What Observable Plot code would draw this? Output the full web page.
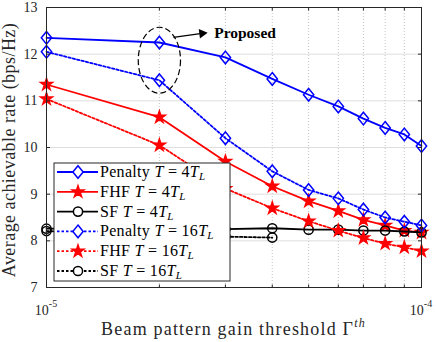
<!DOCTYPE html>
<html><head><meta charset="utf-8">
<script src="https://cdn.jsdelivr.net/npm/d3@7"></script>
<script src="https://cdn.jsdelivr.net/npm/@observablehq/plot@0.6"></script>
<style>body{margin:0;background:#fff;} svg{display:block;}</style>
</head><body><div id="chart"></div>
<script>
const thresholds = [1e-5, 2e-5, 3e-5, 4e-5, 5e-5, 6e-5, 7e-5, 8e-5, 9e-5, 1e-4];
const penalty4  = [12.35, 12.25, 11.93, 11.47, 11.13, 10.88, 10.62, 10.42, 10.28, 10.03];
const fhf4      = [11.35, 10.65, 9.70, 9.17, 8.85, 8.64, 8.45, 8.33, 8.22, 8.18];
const sf4       = [8.26, 8.25, 8.25, 8.27, 8.24, 8.24, 8.22, 8.22, 8.20, 8.18];
const penalty16 = [12.05, 11.44, 10.20, 9.49, 9.09, 8.91, 8.67, 8.50, 8.41, 8.33];
const fhf16     = [11.04, 10.05, 9.12, 8.70, 8.42, 8.22, 8.06, 7.94, 7.86, 7.78];
const sf16      = [8.21, 8.12, 8.09, 8.07];
const yTicks = [7, 8, 9, 10, 11, 12, 13];
const yGrid = [8, 9, 10, 11, 12];
const xMajorTicks = [1e-5, 1e-4];
const xTickLabels = [["10", "-5"], ["10", "-4"]];
const xMinorTicks = [2e-5, 3e-5, 4e-5, 5e-5, 6e-5, 7e-5, 8e-5, 9e-5];
const legendNames = ["Penalty", "FHF", "SF", "Penalty", "FHF", "SF"];
const legendT = ["4", "4", "4", "16", "16", "16"];
const annX = [2e-5], annY = [11.87];
const arrowFrom = {x: 2.18e-5, y: 12.36}, arrowTo = {x: 2.60e-5, y: 12.445};
const annText = {x: 2.80e-5, y: 12.45, text: "Proposed"};
const xLabel = "Beam pattern gain threshold Γ";
const yLabel = "Average achievable rate (bps/Hz)";

const diamond = {draw(ctx, size) { const r = Math.sqrt(size / Math.PI); const w = r * 0.82, h = r;
  ctx.moveTo(0, -h); ctx.lineTo(w, 0); ctx.lineTo(0, h); ctx.lineTo(-w, 0); ctx.closePath(); }};
const ellipse = {draw(ctx, size) { const r = Math.sqrt(size / Math.PI); const rx = r * 0.64, ry = r, k = 0.5523;
  ctx.moveTo(rx, 0); ctx.bezierCurveTo(rx, ry*k, rx*k, ry, 0, ry); ctx.bezierCurveTo(-rx*k, ry, -rx, ry*k, -rx, 0);
  ctx.bezierCurveTo(-rx, -ry*k, -rx*k, -ry, 0, -ry); ctx.bezierCurveTo(rx*k, -ry, rx, -ry*k, rx, 0); ctx.closePath(); }};

const series = [
  {vals: penalty4, color: "#0000ff", dash: null, sym: diamond, r: 6.3, fill: "none"},
  {vals: fhf4, color: "#ff0000", dash: null, sym: "star", r: 3.7, fill: "#ff0000"},
  {vals: sf4, color: "#000000", dash: null, sym: "circle", r: 4.6, fill: "none"},
  {vals: penalty16, color: "#0000ff", dash: "2.5,2", sym: diamond, r: 6.3, fill: "none"},
  {vals: fhf16, color: "#ff0000", dash: "2.5,2", sym: "star", r: 3.7, fill: "#ff0000"},
  {vals: sf16, color: "#000000", dash: "2.5,2", sym: "circle", r: 4.6, fill: "none"}
];

const marks = [
  Plot.gridY(yGrid, {stroke: "#dedede", strokeOpacity: 1, strokeWidth: 1}),
  Plot.gridX(xMinorTicks, {stroke: "#c4c4c4", strokeOpacity: 1, strokeDasharray: "1,2"})
];
series.forEach((s) => {
  const rows = s.vals.map((v, j) => ({x: thresholds[j], y: v}));
  marks.push(Plot.line(rows, {x: "x", y: "y", stroke: s.color, strokeWidth: 1.8, strokeDasharray: s.dash}));
  marks.push(Plot.dot(rows, {x: "x", y: "y", symbol: s.sym, r: s.r, stroke: s.color, strokeWidth: 1.5, fill: s.fill}));
});
marks.push(
  Plot.frame({stroke: "#262626", strokeWidth: 1}),
  Plot.axisY(yTicks, {anchor: "left", tickSize: -4, tickPadding: 13, fontSize: 14, label: null, stroke: "#262626", fill: "#262626", fontFamily: "Liberation Serif"}),
  Plot.axisY(yTicks, {anchor: "right", tickSize: -4, tickFormat: () => "", label: null, stroke: "#262626"}),
  Plot.axisX(xMajorTicks, {anchor: "bottom", tickSize: -4, tickFormat: () => "", label: null, stroke: "#262626"}),
  Plot.axisX(xMajorTicks, {anchor: "top", tickSize: -4, tickFormat: () => "", label: null, stroke: "#262626"}),
  Plot.axisX(xMinorTicks, {anchor: "bottom", tickSize: -2.5, tickFormat: () => "", label: null, stroke: "#262626"}),
  Plot.axisX(xMinorTicks, {anchor: "top", tickSize: -2.5, tickFormat: () => "", label: null, stroke: "#262626"}),
  Plot.dot(annX.map((x, i) => ({x, y: annY[i]})), {x: "x", y: "y", symbol: ellipse, r: 33, stroke: "black", strokeWidth: 1.2, strokeDasharray: "6,3", fill: "none"}),
  Plot.link([{...arrowFrom, x2: arrowTo.x, y2: arrowTo.y}], {x1: "x", y1: "y", x2: "x2", y2: "y2", stroke: "black", strokeWidth: 1.2}),
  Plot.dot([arrowTo], {x: "x", y: "y", symbol: "triangle", r: 3.6, rotate: 83, fill: "black", stroke: "none"}),
  Plot.text([annText], {x: "x", y: "y", text: "text", textAnchor: "start", fontWeight: "bold", fontSize: 15.5, fontFamily: "Liberation Serif", fill: "black"})
);

const plot = Plot.plot({
  width: 436, height: 342,
  marginLeft: 46, marginRight: 15, marginTop: 7, marginBottom: 55,
  x: {type: "log", domain: [1e-5, 1e-4]},
  y: {domain: [7, 13]},
  style: {fontFamily: "Liberation Serif", background: "white", overflow: "visible"},
  marks
});
document.getElementById("chart").appendChild(plot);

const svg = d3.select(plot);
const xs = plot.scale("x"), ys = plot.scale("y");
const bottomY = ys.apply(7);

// x tick labels with superscripts
xMajorTicks.forEach((v, i) => {
  const t = svg.append("text").attr("x", xs.apply(v)).attr("y", bottomY + 28)
    .attr("text-anchor", "middle").attr("font-family", "Liberation Serif").attr("font-size", 14).attr("fill", "#262626");
  t.append("tspan").text(xTickLabels[i][0]);
  t.append("tspan").attr("font-size", 10).attr("dy", -8).text(xTickLabels[i][1]);
});

// axis titles
const xl = svg.append("text").attr("x", (xs.apply(1e-5) + xs.apply(1e-4)) / 2).attr("y", 335)
  .attr("text-anchor", "middle").attr("font-family", "Liberation Serif").attr("font-size", 18)
  .attr("letter-spacing", 1.2).attr("fill", "#262626");
xl.append("tspan").text(xLabel);
xl.append("tspan").attr("font-size", 12).attr("font-style", "italic").attr("dy", -8).text("th");

svg.append("text").attr("transform", `translate(15,150) rotate(-90)`)
  .attr("text-anchor", "middle").attr("font-family", "Liberation Serif").attr("font-size", 18)
  .attr("letter-spacing", 0.45).attr("fill", "#262626").text(yLabel);

// legend
const lg = svg.append("g");
const lx = 54, ly = 163, lw = 176, lh = 118;
lg.append("rect").attr("x", lx).attr("y", ly).attr("width", lw).attr("height", lh)
  .attr("fill", "white").attr("stroke", "#262626").attr("stroke-width", 1);
series.forEach((s, i) => {
  const cy = ly + 9 + i * 19.8;
  lg.append("line").attr("x1", lx + 3).attr("x2", lx + 44).attr("y1", cy).attr("y2", cy)
    .attr("stroke", s.color).attr("stroke-width", 1.8).attr("stroke-dasharray", s.dash);
  const sym = typeof s.sym === "string" ? (s.sym === "star" ? d3.symbolStar : d3.symbolCircle) : s.sym;
  lg.append("path").attr("d", d3.symbol(sym, Math.PI * s.r * s.r)()).attr("transform", `translate(${lx + 24},${cy})`)
    .attr("stroke", s.color).attr("stroke-width", 1.5).attr("fill", s.fill === "none" ? "white" : s.fill);
  const t = lg.append("text").attr("x", lx + 46).attr("y", cy + 5).attr("text-anchor", "start")
    .attr("font-family", "Liberation Serif").attr("font-size", 16).attr("letter-spacing", 0.3).attr("fill", "black");
  t.append("tspan").text(legendNames[i] + " ");
  t.append("tspan").attr("font-style", "italic").text("T");
  t.append("tspan").text(" = " + legendT[i]);
  t.append("tspan").attr("font-style", "italic").text("T");
  t.append("tspan").attr("font-style", "italic").attr("font-size", 11).attr("dy", 3).text("L");
});
</script></body></html>
